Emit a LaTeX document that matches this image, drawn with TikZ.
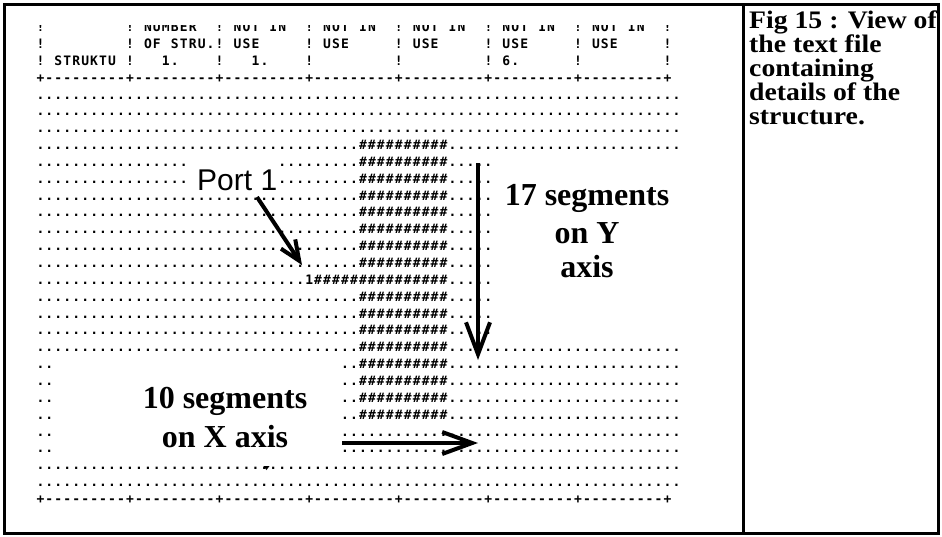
\documentclass[tikz,border=0pt]{standalone}
\usepackage{fontspec}
\setmonofont{DejaVu Sans Mono}[LetterSpace=8.72]
\newfontfamily\serifbf{Liberation Serif}
\newfontfamily\capserif{Liberation Serif}[FakeStretch=1.10]
\newfontfamily\portfont{Liberation Sans}
\usetikzlibrary{arrows.meta}
\ExplSyntaxOn
\newcommand\rep[2]{\prg_replicate:nn{#1}{#2}}
\ExplSyntaxOff
\newcommand\sepline{\rep{7}{+\rep{9}{-}}+}
\newcommand\mt[3]{\node[mono] (r#1c#2) at ({36.5+8.96*#2},{31.6+16.85*#1}) {#3};}
\tikzset{
  mono/.style={anchor=base west,inner sep=0pt,outer sep=0pt,
    font=\ttfamily\bfseries\fontsize{13}{13}\selectfont},
  lab/.style={anchor=base,inner sep=0pt,
    font=\serifbf\bfseries\fontsize{32}{32}\selectfont},
  captxt/.style={anchor=base west,inner sep=0pt,
    font=\capserif\bfseries\fontsize{25.2}{25.2}\selectfont},
  portlab/.style={anchor=base west,inner sep=0pt,
    font=\portfont\fontsize{30}{30}\selectfont},
  framebox/.style={line width=3pt},
  arr/.style={line width=4pt}
}
\begin{document}
\begin{tikzpicture}[x=1pt,y=-1pt]
\useasboundingbox (0,0) rectangle (942,536);
% header line 0 (clipped at top)
\begin{scope}
\clip (20,25) rectangle (720,45);
\foreach \c in {0,10,...,70} {\mt{0}{\c}{!}}
\mt{0}{12}{NUMBER}
\foreach \c in {22,32,...,62} {\mt{0}{\c}{NOT}}
\foreach \c in {26,36,...,66} {\mt{0}{\c}{IN}}
\end{scope}
% header line 1
\foreach \c in {0,10,...,70} {\mt{1}{\c}{!}}
\mt{1}{12}{OF}
\mt{1}{15}{STRU.}
\foreach \c in {22,32,...,62} {\mt{1}{\c}{USE}}
% header line 2
\foreach \c in {0,10,...,70} {\mt{2}{\c}{!}}
\mt{2}{2}{STRUKTU}
\mt{2}{14}{1.}
\mt{2}{24}{1.}
\mt{2}{52}{6.}
% separator
\mt{3}{0}{\sepline}
% dotted rows
\foreach \j in {4,5,6} {\mt{\j}{0}{\rep{72}{.}}}
\mt{7}{0}{\rep{36}{.}\rep{10}{\#}\rep{26}{.}}
\foreach \j in {8,9} {\mt{\j}{0}{\rep{17}{.}}\mt{\j}{27}{\rep{9}{.}\rep{10}{\#}\rep{5}{.}}}
\foreach \j in {10,11,12,13,14,16,17,18} {\mt{\j}{0}{\rep{36}{.}\rep{10}{\#}\rep{5}{.}}}
\mt{15}{0}{\rep{30}{.}1\rep{15}{\#}\rep{5}{.}}
\mt{19}{0}{\rep{36}{.}\rep{10}{\#}\rep{26}{.}}
\foreach \j in {20,21,22,23} {\mt{\j}{0}{..}\mt{\j}{34}{..\rep{10}{\#}\rep{26}{.}}}
\foreach \j in {24,25} {\mt{\j}{0}{..}\mt{\j}{34}{\rep{38}{.}}}
\foreach \j in {26,27} {\mt{\j}{0}{\rep{72}{.}}}
\mt{28}{0}{\sepline}
% small mark
\fill (263.5,466) -- (269.5,466) -- (266.5,470) -- cycle;
% labels
\node[portlab] (port) at (197,190) {Port 1};
\node[lab] (y1) at (587,205) {17 segments};
\node[lab] (y2) at (587,243) {on Y};
\node[lab] (y3) at (587,277) {axis};
\node[lab] (x1) at (225,408) {10 segments};
\node[lab] (x2) at (225,447) {on X axis};
% arrows
\coordinate (pa) at (257,197);
\coordinate (pb) at (302,265);
\coordinate (ya) at (478,163);
\coordinate (yb) at (478,360);
\coordinate (xa) at (342,443);
\coordinate (xb) at (478,443);
\draw[arr,-{Straight Barb[length=20pt,width=17pt]}] (pa) -- (pb);
\draw[arr,-{Straight Barb[length=32pt,width=24pt]}] (ya) -- (yb);
\draw[arr,-{Straight Barb[length=30pt,width=22pt]}] (xa) -- (xb);
% caption
\node[captxt] (c1) at (749,28.5) {Fig 15 : View of};
\node[captxt] (c2) at (749,52.5) {the text file};
\node[captxt] (c3) at (749,76.5) {containing};
\node[captxt] (c4) at (749,100.5) {details of the};
\node[captxt] (c5) at (749,124.5) {structure.};
% frame
\draw[framebox] (4,4.5) rectangle (938.5,533);
\draw[framebox] (743.5,4.5) -- (743.5,533);
\end{tikzpicture}
\end{document}
